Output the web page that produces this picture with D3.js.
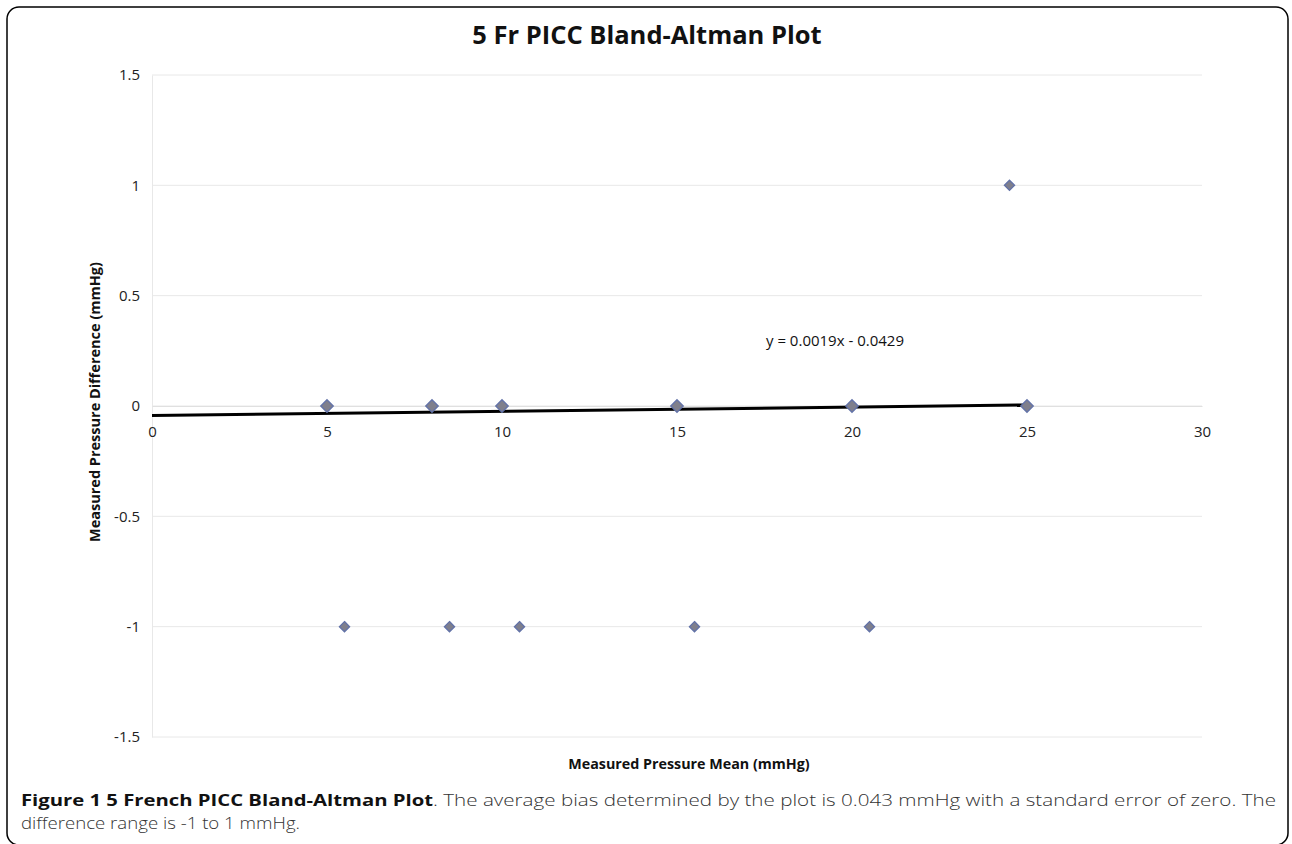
<!DOCTYPE html>
<html>
<head>
<meta charset="utf-8">
<script src="https://cdn.jsdelivr.net/npm/d3@7"></script>
<style>
  html, body { margin: 0; padding: 0; background: #fff; }
  svg { display: block; }
</style>
</head>
<body>
<svg id="chart" width="1292" height="844"></svg>
<script>
// ---- data ----
const meanValues = [5, 8, 10, 15, 20, 25, 24.5, 5.5, 8.5, 10.5, 15.5, 20.5];
const diffValues = [0, 0, 0, 0, 0, 0, 1, -1, -1, -1, -1, -1];
const obsCounts  = [2, 2, 2, 2, 2, 2, 1, 1, 1, 1, 1, 1];
const xTicks = [0, 5, 10, 15, 20, 25, 30];
const yTicks = [-1.5, -1, -0.5, 0, 0.5, 1, 1.5];
const trendSlope = 0.0019;
const trendIntercept = -0.0429;
const trendRange = [0, 25];
const titleText = "5 Fr PICC Bland-Altman Plot";
const xLabel = "Measured Pressure Mean (mmHg)";
const yLabel = "Measured Pressure Difference (mmHg)";
const eqText = "y = 0.0019x - 0.0429";
const captionBold = "Figure 1 5 French PICC Bland-Altman Plot";
const captionRest1 = ". The average bias determined by the plot is 0.043 mmHg with a standard error of zero. The";
const captionRest2 = "difference range is -1 to 1 mmHg.";

const svg = d3.select("#chart");
const font = "'Open Sans', 'Noto Sans', sans-serif";

// frame
svg.append("rect").attr("x", 7).attr("y", 7).attr("width", 1281).attr("height", 838)
  .attr("rx", 12).attr("fill", "none").attr("stroke", "#000").attr("stroke-width", 1.5);

const x = d3.scaleLinear().domain([0, 30]).range([152, 1202]);
const y = d3.scaleLinear().domain([-1.5, 1.5]).range([737, 75]);

// gridlines
svg.append("g").selectAll("line").data(yTicks).join("line")
  .attr("x1", x(0)).attr("x2", x(30))
  .attr("y1", d => y(d)).attr("y2", d => y(d))
  .attr("stroke", "#e8e8e8").attr("stroke-width", 1);

// y axis
const yAxis = d3.axisLeft(y).tickValues(yTicks).tickSize(0).tickPadding(12)
  .tickFormat(d => String(d));
const gy = svg.append("g").attr("transform", `translate(${x(0)},0)`).call(yAxis);
gy.select(".domain").attr("stroke", "#e8e8e8");
gy.selectAll("text").attr("font-family", font).attr("font-size", 15).attr("fill", "#222");

// x axis at y=0
const xAxis = d3.axisBottom(x).tickValues(xTicks).tickSize(0).tickPadding(20);
const gx = svg.append("g").attr("transform", `translate(0,${y(0)})`).call(xAxis);
gx.select(".domain").attr("stroke", "#e0e0e0");
gx.selectAll("text").attr("font-family", font).attr("font-size", 15).attr("fill", "#222");

// trend line
const tl = d3.line().x(d => x(d)).y(d => y(trendSlope * d + trendIntercept));
svg.append("path").datum(trendRange).attr("d", tl)
  .attr("fill", "none").attr("stroke", "#000").attr("stroke-width", 3);

// points
const pts = meanValues.map((m, i) => ({m, d: diffValues[i], c: obsCounts[i]}));
const sym = d3.symbol().type(d3.symbolDiamond2);
svg.append("g").selectAll("path").data(pts).join("path")
  .attr("transform", d => `translate(${x(d.m)},${y(d.d)})`)
  .attr("d", d => sym.size(d.c > 1 ? 100 : 66)())
  .attr("fill", "#7f7f8c").attr("stroke", "#6272a8").attr("stroke-width", 1.3);

// equation
svg.append("text").attr("x", 835).attr("y", 346).attr("text-anchor", "middle")
  .attr("font-family", font).attr("font-size", 15).attr("fill", "#111").text(eqText);

// title
svg.append("text").attr("x", 647).attr("y", 44).attr("text-anchor", "middle")
  .attr("font-family", font).attr("font-size", 25.5).attr("font-weight", "bold")
  .attr("fill", "#111").text(titleText);

// axis labels
svg.append("text").attr("x", 689).attr("y", 769).attr("text-anchor", "middle")
  .attr("font-family", font).attr("font-size", 14.3).attr("font-weight", "bold")
  .attr("fill", "#111").text(xLabel);
svg.append("text").attr("transform", `translate(100,402) rotate(-90)`).attr("text-anchor", "middle")
  .attr("font-family", font).attr("font-size", 14.5).attr("font-weight", "bold")
  .attr("fill", "#111").text(yLabel);

// caption
const capFont = 16.5;
svg.append("text").attr("x", 21).attr("y", 806)
  .attr("font-family", font).attr("font-size", capFont).attr("font-weight", "bold").attr("fill", "#111")
  .attr("textLength", 412).attr("lengthAdjust", "spacingAndGlyphs").text(captionBold);
svg.append("text").attr("x", 433).attr("y", 806)
  .attr("font-family", font).attr("font-size", capFont).attr("font-weight", "300").attr("fill", "#333")
  .attr("textLength", 843).attr("lengthAdjust", "spacingAndGlyphs").text(captionRest1);
svg.append("text").attr("x", 21).attr("y", 829)
  .attr("font-family", font).attr("font-size", capFont).attr("font-weight", "300").attr("fill", "#333")
  .attr("textLength", 279).attr("lengthAdjust", "spacingAndGlyphs").text(captionRest2);
</script>
</body>
</html>
